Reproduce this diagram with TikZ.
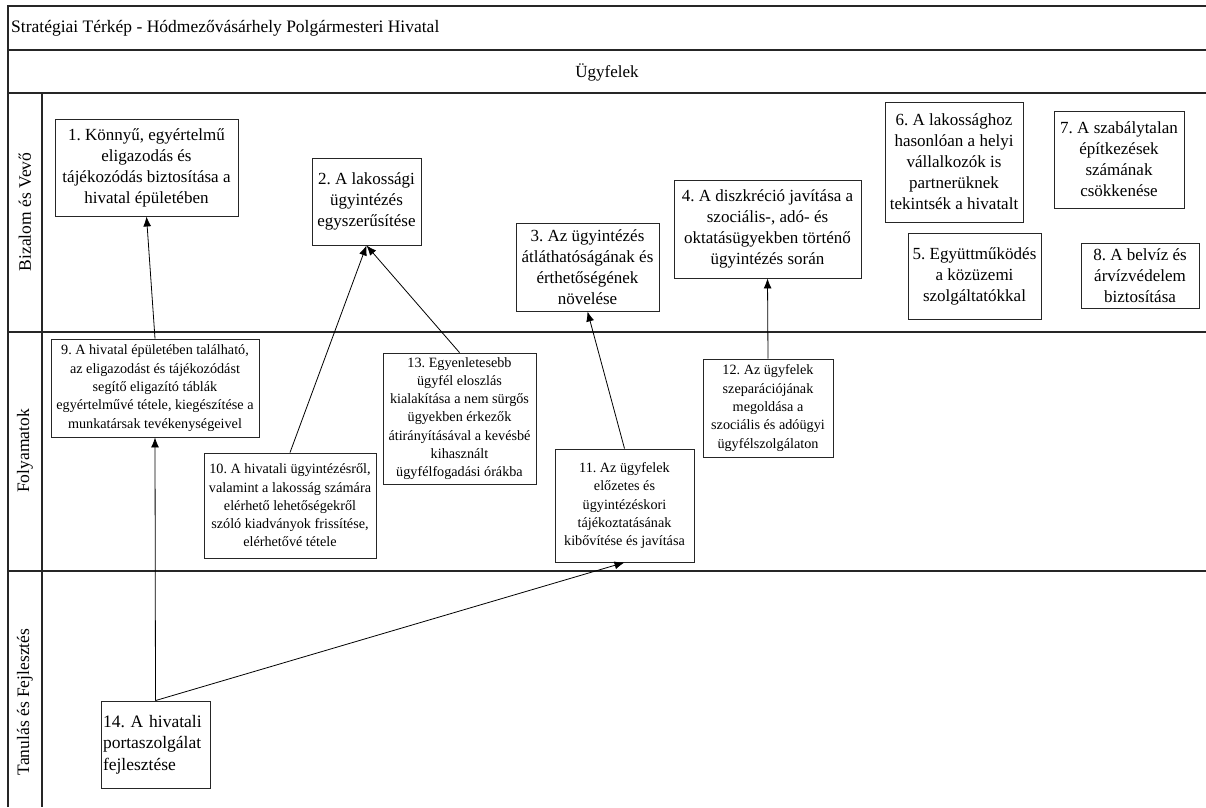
\documentclass[tikz,border=0pt]{standalone}
\usepackage{fontspec}
\setmainfont{Liberation Serif}
\usetikzlibrary{arrows.meta}
\frenchspacing

\tikzset{
  frameline/.style={draw=black!85, line width=1.3pt},
  goal/.style={draw=black!85, line width=0.9pt, align=center, inner sep=0pt,
    font=\fontsize{17}{21}\selectfont},
  proc/.style={draw=black!85, line width=0.9pt, align=center, inner sep=0pt,
    font=\fontsize{14.2}{18.3}\selectfont},
  lanelabel/.style={rotate=90, font=\fontsize{17.5}{21}\selectfont},
  link/.style={draw=black, line width=0.8pt, -{Latex[length=10pt,width=8pt]}},
}

\begin{document}
\begin{tikzpicture}[x=1pt, y=-1pt]
\useasboundingbox (0,0) rectangle (1206,807);

% frame and lane grid
\draw[frameline] (8,807) -- (8,6) -- (1206,6);
\draw[frameline] (8,50) -- (1206,50);
\draw[frameline] (8,93) -- (1206,93);
\draw[frameline] (8,332) -- (1206,332);
\draw[frameline] (8,571) -- (1206,571);
\draw[frameline] (42,93) -- (42,807);

% headings
\node[anchor=west, font=\fontsize{17.5}{21}\selectfont, inner sep=0pt] (title) at (11,28)
  {Stratégiai Térkép - Hódmezővásárhely Polgármesteri Hivatal};
\node[font=\fontsize{17}{21}\selectfont, inner sep=0pt] (customers) at (607,72) {Ügyfelek};

% lane labels
\node[lanelabel] (lane1) at (25,212) {Bizalom és Vevő};
\node[lanelabel] (lane2) at (25,451) {Folyamatok};
\node[lanelabel] (lane3) at (25,702) {Tanulás és Fejlesztés};

% Bizalom és Vevő
\node[goal, minimum width=183, minimum height=97] (b1) at (146.5,167.5)
  {1. Könnyű, egyértelmű\\eligazodás és\\tájékozódás biztosítása a\\hivatal épületében};
\node[goal, minimum width=109, minimum height=87] (b2) at (366.5,201.5)
  {2. A lakossági\\ügyintézés\\egyszerűsítése};
\node[goal, minimum width=143, minimum height=88] (b3) at (587.5,267)
  {3. Az ügyintézés\\átláthatóságának és\\érthetőségének\\növelése};
\node[goal, minimum width=187, minimum height=98] (b4) at (767.5,229)
  {4. A diszkréció javítása a\\szociális-, adó- és\\oktatásügyekben történő\\ügyintézés során};
\node[goal, minimum width=133, minimum height=86] (b5) at (974.5,276)
  {5. Együttműködés\\a közüzemi\\szolgáltatókkal};
\node[goal, minimum width=138, minimum height=120] (b6) at (954,162)
  {6. A lakossághoz\\hasonlóan a helyi\\vállalkozók is\\partnerüknek\\tekintsék a hivatalt};
\node[goal, minimum width=130, minimum height=97] (b7) at (1119,159.5)
  {7. A szabálytalan\\építkezések\\számának\\csökkenése};
\node[goal, minimum width=118, minimum height=65] (b8) at (1140,275.5)
  {8. A belvíz és\\árvízvédelem\\biztosítása};

% Folyamatok
\node[proc, minimum width=208, minimum height=98] (b9) at (155,388)
  {9. A hivatal épületében található,\\az eligazodást és tájékozódást\\segítő eligazító táblák\\egyértelművé tétele, kiegészítése a\\munkatársak tevékenységeivel};
\node[proc, minimum width=172, minimum height=105] (b10) at (290,505.5)
  {10. A hivatali ügyintézésről,\\valamint a lakosság számára\\elérhető lehetőségekről\\szóló kiadványok frissítése,\\elérhetővé tétele};
\node[proc, minimum width=139, minimum height=113] (b11) at (624.5,505.5)
  {11. Az ügyfelek\\előzetes és\\ügyintézéskori\\tájékoztatásának\\kibővítése és javítása};
\node[proc, minimum width=130, minimum height=98] (b12) at (768,408)
  {12. Az ügyfelek\\szeparációjának\\megoldása a\\szociális és adóügyi\\ügyfélszolgálaton};
\node[proc, minimum width=153, minimum height=131] (b13) at (459.5,418.5)
  {13. Egyenletesebb\\ügyfél eloszlás\\kialakítása a nem sürgős\\ügyekben érkezők\\átirányításával a kevésbé\\kihasznált\\ügyfélfogadási órákba};

% Tanulás és Fejlesztés
\node[draw=black!85, line width=0.9pt, align=left, inner sep=0pt,
  font=\fontsize{17.5}{21.7}\selectfont,
  minimum width=109, minimum height=87, text width=105] (b14) at (155.5,744.5)
  {14. A hivatali\\portaszolgálat\\fejlesztése};

% cause and effect links
\draw[link] (b9.north) -- (b1.south);
\draw[link] (b10.north) -- (b2.south);
\draw[link] (b13.north) -- (b2.south);
\draw[link] (b11.north) -- (b3.south);
\draw[link] (b12.north) -- (b4.south);
\draw[link] (b14.north) -- (b9.south);
\draw[link] (b14.north) -- (b11.south);
\end{tikzpicture}
\end{document}
